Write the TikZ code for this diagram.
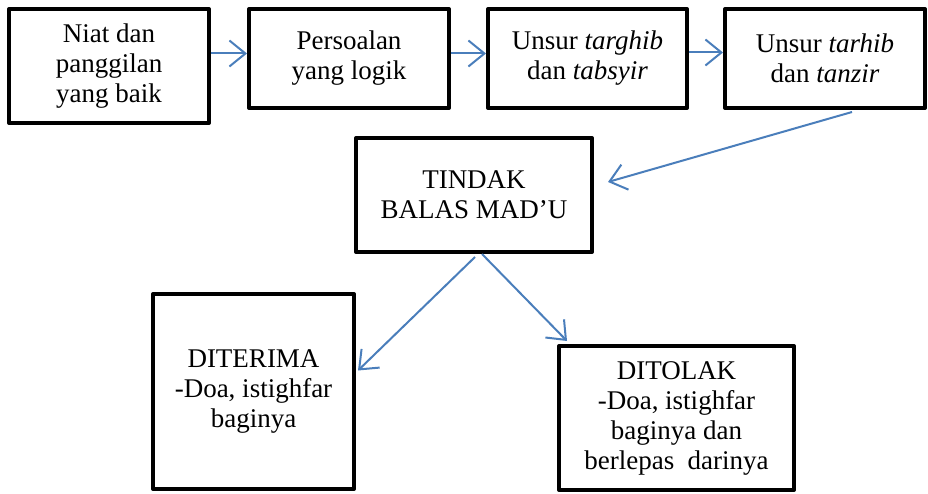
\documentclass[tikz,border=0pt]{standalone}
\usepackage{fontspec}
\setmainfont{Liberation Serif}
\usetikzlibrary{arrows.meta}
\definecolor{flowblue}{RGB}{74,126,187}

\begin{document}
\begin{tikzpicture}[x=1pt, y=-1pt,
    box/.style={draw, line width=4pt, line join=round, align=center,
        inner sep=0pt, font=\fontsize{27}{30}\selectfont},
    flow/.style={draw=flowblue, line width=2pt,
        -{Straight Barb[length=16pt,width=26pt]}}]

    \useasboundingbox (0,0) rectangle (928,494);

    % Top row
    \node[box, minimum width=200pt, minimum height=114pt] (niat) at (109,66) {Niat dan\\panggilan\\yang baik};
    \node[box, minimum width=200pt, minimum height=99pt] (persoalan) at (349,58.5) {Persoalan\\yang logik};
    \node[box, minimum width=199pt, minimum height=99pt] (targhib) at (587.5,58.5) {Unsur \textit{targhib}\\dan \textit{tabsyir}};
    \node[box, minimum width=200pt, minimum height=99pt] (tarhib) at (825,58.5) {Unsur \textit{tarhib}\\dan \textit{tanzir}};

    % Middle
    \node[box, minimum width=236pt, minimum height=114pt] (tindak) at (474,195) {TINDAK\\BALAS MAD’U};

    % Bottom row
    \node[box, minimum width=201pt, minimum height=195pt] (diterima) at (253.5,391.5) {DITERIMA\\-Doa, istighfar\\baginya};
    \node[box, minimum width=235pt, minimum height=144pt] (ditolak) at (676.5,418) {DITOLAK\\-Doa, istighfar\\baginya dan\\berlepas\ \ darinya};

    % Arrows
    \draw[flow] ([yshift=5pt]niat.east |- persoalan.west) -- ([yshift=5pt]persoalan.west);
    \draw[flow] ([yshift=5pt]persoalan.east) -- ([yshift=5pt]targhib.west);
    \draw[flow] ([yshift=6pt]targhib.east) -- ([yshift=6pt]tarhib.west);
    \draw[flow] ([xshift=27pt,yshift=-2pt]tarhib.south) -- ([xshift=14pt,yshift=13pt]tindak.east);
    \draw[flow] ([xshift=1pt,yshift=-3pt]tindak.south) -- ([xshift=2pt,yshift=21pt]diterima.east);
    \draw[flow] ([xshift=8pt]tindak.south) -- ([xshift=10pt,yshift=3pt]ditolak.north west);
\end{tikzpicture}
\end{document}
